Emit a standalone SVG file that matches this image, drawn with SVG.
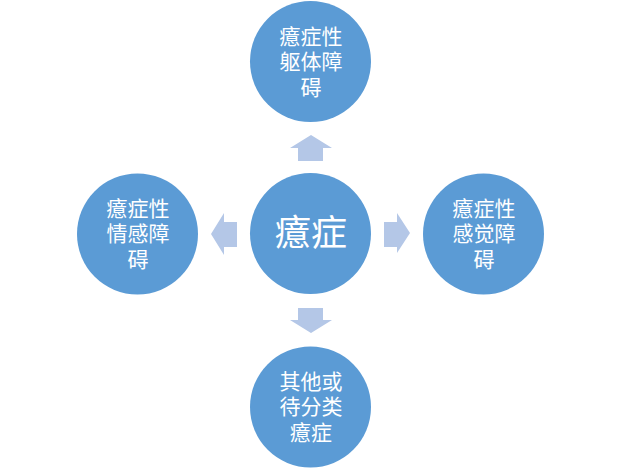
<svg xmlns="http://www.w3.org/2000/svg" width="622" height="469" viewBox="0 0 622 469">
<style>
.node{fill:#5B9BD5;}
.arr{fill:#B4C7E7;}
.t{fill:#FFFFFF;font-family:"Noto Sans CJK SC","Noto Sans CJK JP",sans-serif;font-size:21px;text-anchor:middle;}
.c{fill:#FFFFFF;font-family:"Noto Sans CJK SC",serif;font-size:36px;text-anchor:middle;}
</style>
<rect width="622" height="469" fill="#FFFFFF"/>
<g id="connectors">
<polygon class="arr" points="298,161 298,148 290,148 311,135 332,148 323,148 323,161"/>
<polygon class="arr" points="298,308 323,308 323,320 332,320 311,333 290,320 298,320"/>
<polygon class="arr" points="384,222 397,222 397,213 410,233 397,253 397,247 384,247"/>
<polygon class="arr" points="237,222 224,222 224,213 211,234 224,255 224,247 237,247"/>
</g>
<g id="center">
<circle class="node" cx="310.5" cy="233.5" r="60.5"/>
<text class="c" x="311" y="246">癔症</text>
</g>
<g id="top">
<circle class="node" cx="310.5" cy="61.5" r="60.5"/>
<text class="t" x="311" y="44">癔症性</text>
<text class="t" x="311" y="69">躯体障</text>
<text class="t" x="311" y="95">碍</text>
</g>
<g id="left">
<circle class="node" cx="137.5" cy="234" r="60.5"/>
<text class="t" x="138" y="216">癔症性</text>
<text class="t" x="138" y="241">情感障</text>
<text class="t" x="138" y="267">碍</text>
</g>
<g id="right">
<circle class="node" cx="483.5" cy="234" r="60.5"/>
<text class="t" x="484" y="216">癔症性</text>
<text class="t" x="484" y="241">感觉障</text>
<text class="t" x="484" y="267">碍</text>
</g>
<g id="bottom">
<circle class="node" cx="310.5" cy="407" r="60.5"/>
<text class="t" x="311" y="389">其他或</text>
<text class="t" x="311" y="414">待分类</text>
<text class="t" x="311" y="440">癔症</text>
</g>
</svg>
